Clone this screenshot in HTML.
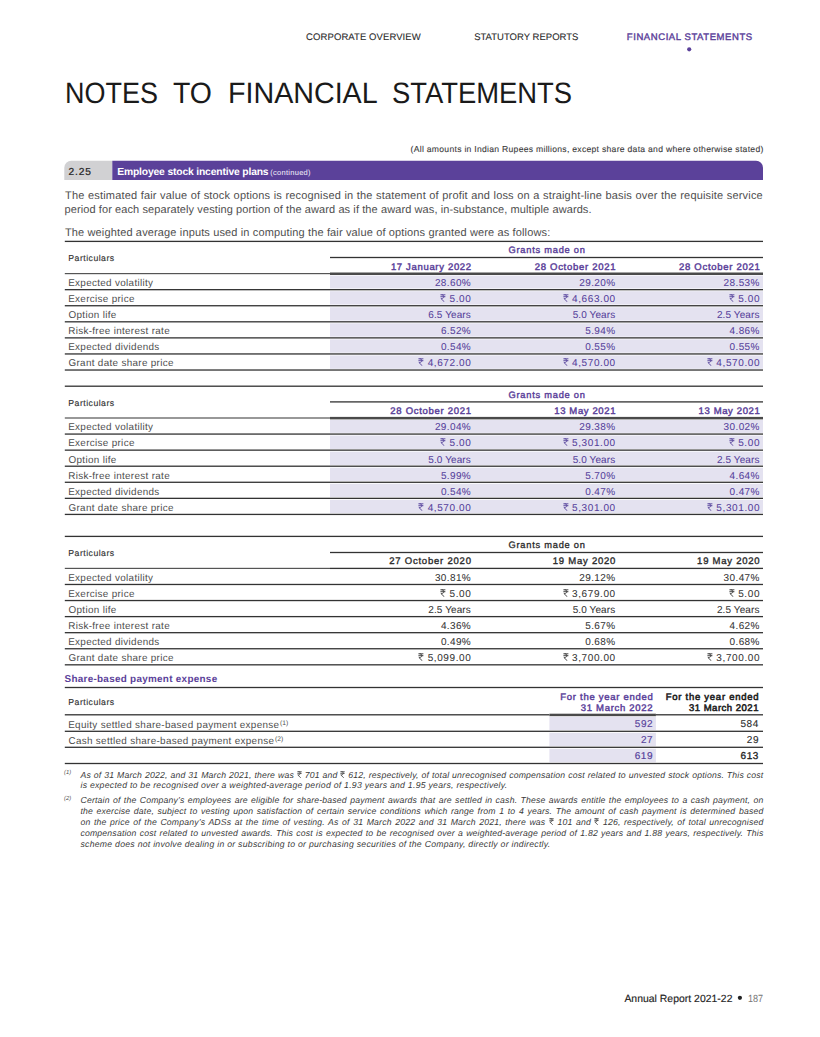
<!DOCTYPE html>
<html><head><meta charset="utf-8"><style>
html,body{margin:0;padding:0;background:#fff;}
body{width:820px;height:1037px;position:relative;overflow:hidden;font-family:"Liberation Sans",sans-serif;text-rendering:geometricPrecision;}
.t{position:absolute;white-space:nowrap;}
.ru{display:inline-block;width:0.58em;height:0.82em;vertical-align:baseline;margin-bottom:0.01em;margin-right:0.0em;}
sup{font-size:0.68em;vertical-align:top;line-height:1;position:relative;top:0.08em;letter-spacing:0;margin-left:0.1em;}
#g{position:absolute;left:0;top:0;}
</style></head><body>
<svg id="g" width="820" height="1037" viewBox="0 0 820 1037">
<circle cx="689.2" cy="49.3" r="2.1" fill="#5b419a"/>
<path d="M64.3 180.1V167.8A7 7 0 0 1 71.3 160.8H112.3V180.1Z" fill="#d1d1d3"/>
<path d="M112.3 180.1V160.8H756A7 7 0 0 1 763 167.8V180.1Z" fill="#5b419a"/>
<rect x="64.80" y="240.75" width="698.20" height="1.30" fill="#333333"/>
<rect x="330.00" y="256.85" width="433.00" height="1.30" fill="#333333"/>
<rect x="64.80" y="273.00" width="265.20" height="1.20" fill="#555"/>
<rect x="330.00" y="272.50" width="433.00" height="2.50" fill="#4a4a4a"/>
<rect x="330.00" y="275.60" width="433.00" height="12.87" fill="#e4e2f0"/>
<rect x="64.80" y="289.02" width="698.20" height="1.30" fill="#333333"/>
<rect x="330.00" y="291.17" width="433.00" height="13.37" fill="#e4e2f0"/>
<rect x="64.80" y="305.09" width="698.20" height="1.30" fill="#333333"/>
<rect x="330.00" y="307.24" width="433.00" height="13.37" fill="#e4e2f0"/>
<rect x="64.80" y="321.16" width="698.20" height="1.30" fill="#333333"/>
<rect x="330.00" y="323.31" width="433.00" height="13.37" fill="#e4e2f0"/>
<rect x="64.80" y="337.23" width="698.20" height="1.30" fill="#333333"/>
<rect x="330.00" y="339.38" width="433.00" height="13.37" fill="#e4e2f0"/>
<rect x="64.80" y="353.30" width="698.20" height="1.30" fill="#333333"/>
<rect x="330.00" y="355.45" width="433.00" height="13.37" fill="#e4e2f0"/>
<rect x="64.80" y="369.37" width="698.20" height="1.30" fill="#333333"/>
<rect x="64.80" y="385.55" width="698.20" height="1.30" fill="#333333"/>
<rect x="330.00" y="401.25" width="433.00" height="1.30" fill="#333333"/>
<rect x="64.80" y="417.40" width="265.20" height="1.20" fill="#555"/>
<rect x="330.00" y="416.90" width="433.00" height="2.50" fill="#4a4a4a"/>
<rect x="330.00" y="420.00" width="433.00" height="12.87" fill="#e4e2f0"/>
<rect x="64.80" y="433.42" width="698.20" height="1.30" fill="#333333"/>
<rect x="330.00" y="435.57" width="433.00" height="13.37" fill="#e4e2f0"/>
<rect x="64.80" y="449.49" width="698.20" height="1.30" fill="#333333"/>
<rect x="330.00" y="451.64" width="433.00" height="13.37" fill="#e4e2f0"/>
<rect x="64.80" y="465.56" width="698.20" height="1.30" fill="#333333"/>
<rect x="330.00" y="467.71" width="433.00" height="13.37" fill="#e4e2f0"/>
<rect x="64.80" y="481.63" width="698.20" height="1.30" fill="#333333"/>
<rect x="330.00" y="483.78" width="433.00" height="13.37" fill="#e4e2f0"/>
<rect x="64.80" y="497.70" width="698.20" height="1.30" fill="#333333"/>
<rect x="330.00" y="499.85" width="433.00" height="13.37" fill="#e4e2f0"/>
<rect x="64.80" y="513.77" width="698.20" height="1.30" fill="#333333"/>
<rect x="64.80" y="535.75" width="698.20" height="1.30" fill="#333333"/>
<rect x="330.00" y="551.85" width="433.00" height="1.30" fill="#333333"/>
<rect x="64.80" y="567.80" width="265.20" height="1.20" fill="#555"/>
<rect x="330.00" y="567.75" width="433.00" height="1.30" fill="#333"/>
<rect x="64.80" y="583.82" width="698.20" height="1.30" fill="#333333"/>
<rect x="64.80" y="599.89" width="698.20" height="1.30" fill="#333333"/>
<rect x="64.80" y="615.96" width="698.20" height="1.30" fill="#333333"/>
<rect x="64.80" y="632.03" width="698.20" height="1.30" fill="#333333"/>
<rect x="64.80" y="648.10" width="698.20" height="1.30" fill="#333333"/>
<rect x="64.80" y="664.17" width="698.20" height="1.30" fill="#333333"/>
<rect x="64.80" y="686.85" width="698.20" height="1.30" fill="#333333"/>
<rect x="64.80" y="714.15" width="484.60" height="1.30" fill="#333333"/>
<rect x="549.40" y="713.70" width="106.50" height="2.50" fill="#4a4a4a"/>
<rect x="655.90" y="714.15" width="107.10" height="1.30" fill="#333333"/>
<rect x="549.40" y="716.80" width="106.50" height="13.30" fill="#e4e2f0"/>
<rect x="64.80" y="730.65" width="698.20" height="1.30" fill="#333333"/>
<rect x="549.40" y="732.80" width="106.50" height="13.30" fill="#e4e2f0"/>
<rect x="64.80" y="746.65" width="698.20" height="1.30" fill="#333333"/>
<rect x="549.40" y="748.80" width="106.50" height="13.50" fill="#e4e2f0"/>
<rect x="64.80" y="762.85" width="698.20" height="1.30" fill="#333333"/>
<circle cx="739.9" cy="997.8" r="2.1" fill="#222"/>
</svg>
<div class="t" style="left:306.12px;letter-spacing:0.087px;top:33px;font-size:9.5px;line-height:10.61px;-webkit-text-stroke:0.1px currentColor;color:#2a2a2a;">CORPORATE OVERVIEW</div>
<div class="t" style="left:474.17px;letter-spacing:0.017px;top:33px;font-size:9.5px;line-height:10.61px;-webkit-text-stroke:0.1px currentColor;color:#2a2a2a;">STATUTORY REPORTS</div>
<div class="t" style="left:626.84px;letter-spacing:0.577px;top:33px;font-size:9.5px;line-height:10.61px;-webkit-text-stroke:0.4px currentColor;color:#5b419a;">FINANCIAL STATEMENTS</div>
<div class="t" style="left:64.54px;transform:scaleX(0.9138);transform-origin:0 0;top:78px;font-size:29.5px;line-height:32.95px;color:#1a1a1a;">NOTES</div>
<div class="t" style="left:173.43px;transform:scaleX(0.9637);transform-origin:0 0;top:78px;font-size:29.5px;line-height:32.95px;color:#1a1a1a;">TO</div>
<div class="t" style="left:227.61px;transform:scaleX(0.9712);transform-origin:0 0;top:78px;font-size:29.5px;line-height:32.95px;color:#1a1a1a;">FINANCIAL</div>
<div class="t" style="left:392.17px;transform:scaleX(0.9283);transform-origin:0 0;top:78px;font-size:29.5px;line-height:32.95px;color:#1a1a1a;">STATEMENTS</div>
<div class="t" style="left:410.58px;letter-spacing:0.281px;top:145px;font-size:8.6px;line-height:9.61px;-webkit-text-stroke:0.1px currentColor;color:#3a3a3a;">(All amounts in Indian Rupees millions, except share data and where otherwise stated)</div>
<div class="t" style="left:68.39px;letter-spacing:0.893px;top:167px;font-size:10.2px;line-height:11.39px;-webkit-text-stroke:0.2px currentColor;color:#222;">2.25</div>
<div class="t" style="left:117.23px;letter-spacing:-0.148px;top:167px;font-size:10.3px;line-height:11.51px;font-weight:bold;color:#fff;">Employee stock incentive plans</div>
<div class="t" style="left:270.25px;letter-spacing:0.280px;top:169px;font-size:7.5px;line-height:8.38px;color:#f4f2fa;">(continued)</div>
<div class="t" style="left:65.09px;letter-spacing:0.000px;top:190px;font-size:11.0px;line-height:12.29px;color:#4e4e4e;width:697.8px;text-align:justify;text-align-last:justify;letter-spacing:0.17px;">The estimated fair value of stock options is recognised in the statement of profit and loss on a straight-line basis over the requisite service</div>
<div class="t" style="left:64.48px;letter-spacing:0.098px;top:204px;font-size:11.0px;line-height:12.29px;color:#4e4e4e;">period for each separately vesting portion of the award as if the award was, in-substance, multiple awards.</div>
<div class="t" style="left:64.98px;letter-spacing:0.139px;top:227px;font-size:11.0px;line-height:12.29px;color:#4e4e4e;">The weighted average inputs used in computing the fair value of options granted were as follows:</div>
<div class="t" style="left:68.30px;letter-spacing:0.479px;top:254px;font-size:8.7px;line-height:9.72px;-webkit-text-stroke:0.15px currentColor;color:#333;">Particulars</div>
<div class="t" style="left:508.44px;letter-spacing:0.757px;top:245px;font-size:9.3px;line-height:10.39px;-webkit-text-stroke:0.4px currentColor;color:#5b419a;">Grants made on</div>
<div class="t" style="right:348.25px;letter-spacing:0.672px;top:263px;font-size:9.5px;line-height:10.61px;-webkit-text-stroke:0.45px currentColor;color:#5b419a;">17 January 2022</div>
<div class="t" style="right:203.86px;letter-spacing:0.709px;top:263px;font-size:9.5px;line-height:10.61px;-webkit-text-stroke:0.45px currentColor;color:#5b419a;">28 October 2021</div>
<div class="t" style="right:59.56px;letter-spacing:0.709px;top:263px;font-size:9.5px;line-height:10.61px;-webkit-text-stroke:0.45px currentColor;color:#5b419a;">28 October 2021</div>
<div class="t" style="left:68.21px;letter-spacing:0.320px;top:278px;font-size:9.9px;line-height:11.06px;color:#4e4e4e;">Expected volatility</div>
<div class="t" style="right:348.90px;letter-spacing:0.380px;top:278px;font-size:10.0px;line-height:11.17px;-webkit-text-stroke:0.05px currentColor;color:#54409a;">28.60%</div>
<div class="t" style="right:204.50px;letter-spacing:0.380px;top:278px;font-size:10.0px;line-height:11.17px;-webkit-text-stroke:0.05px currentColor;color:#54409a;">29.20%</div>
<div class="t" style="right:60.20px;letter-spacing:0.380px;top:278px;font-size:10.0px;line-height:11.17px;-webkit-text-stroke:0.05px currentColor;color:#54409a;">28.53%</div>
<div class="t" style="left:68.21px;letter-spacing:0.320px;top:294px;font-size:9.9px;line-height:11.06px;color:#4e4e4e;">Exercise price</div>
<div class="t" style="right:348.64px;letter-spacing:0.600px;top:294px;font-size:10.0px;line-height:11.17px;-webkit-text-stroke:0.05px currentColor;color:#54409a;"><svg class="ru" viewBox="0 0 54 82"><path d="M2 8H52M2 27H52M14 8C44 8 46 45 12 45H7L42 79" fill="none" stroke="currentColor" stroke-width="9"/></svg> 5.00</div>
<div class="t" style="right:204.22px;letter-spacing:0.600px;top:294px;font-size:10.0px;line-height:11.17px;-webkit-text-stroke:0.05px currentColor;color:#54409a;"><svg class="ru" viewBox="0 0 54 82"><path d="M2 8H52M2 27H52M14 8C44 8 46 45 12 45H7L42 79" fill="none" stroke="currentColor" stroke-width="9"/></svg> 4,663.00</div>
<div class="t" style="right:59.94px;letter-spacing:0.600px;top:294px;font-size:10.0px;line-height:11.17px;-webkit-text-stroke:0.05px currentColor;color:#54409a;"><svg class="ru" viewBox="0 0 54 82"><path d="M2 8H52M2 27H52M14 8C44 8 46 45 12 45H7L42 79" fill="none" stroke="currentColor" stroke-width="9"/></svg> 5.00</div>
<div class="t" style="left:68.55px;letter-spacing:0.320px;top:310px;font-size:9.9px;line-height:11.06px;color:#4e4e4e;">Option life</div>
<div class="t" style="right:349.14px;letter-spacing:0.100px;top:310px;font-size:10.0px;line-height:11.17px;-webkit-text-stroke:0.05px currentColor;color:#54409a;">6.5 Years</div>
<div class="t" style="right:204.74px;letter-spacing:0.100px;top:310px;font-size:10.0px;line-height:11.17px;-webkit-text-stroke:0.05px currentColor;color:#54409a;">5.0 Years</div>
<div class="t" style="right:60.44px;letter-spacing:0.100px;top:310px;font-size:10.0px;line-height:11.17px;-webkit-text-stroke:0.05px currentColor;color:#54409a;">2.5 Years</div>
<div class="t" style="left:68.21px;letter-spacing:0.320px;top:326px;font-size:9.9px;line-height:11.06px;color:#4e4e4e;">Risk-free interest rate</div>
<div class="t" style="right:348.87px;letter-spacing:0.380px;top:326px;font-size:10.0px;line-height:11.17px;-webkit-text-stroke:0.05px currentColor;color:#54409a;">6.52%</div>
<div class="t" style="right:204.47px;letter-spacing:0.380px;top:326px;font-size:10.0px;line-height:11.17px;-webkit-text-stroke:0.05px currentColor;color:#54409a;">5.94%</div>
<div class="t" style="right:60.17px;letter-spacing:0.380px;top:326px;font-size:10.0px;line-height:11.17px;-webkit-text-stroke:0.05px currentColor;color:#54409a;">4.86%</div>
<div class="t" style="left:68.21px;letter-spacing:0.320px;top:342px;font-size:9.9px;line-height:11.06px;color:#4e4e4e;">Expected dividends</div>
<div class="t" style="right:348.87px;letter-spacing:0.380px;top:342px;font-size:10.0px;line-height:11.17px;-webkit-text-stroke:0.05px currentColor;color:#54409a;">0.54%</div>
<div class="t" style="right:204.47px;letter-spacing:0.380px;top:342px;font-size:10.0px;line-height:11.17px;-webkit-text-stroke:0.05px currentColor;color:#54409a;">0.55%</div>
<div class="t" style="right:60.17px;letter-spacing:0.380px;top:342px;font-size:10.0px;line-height:11.17px;-webkit-text-stroke:0.05px currentColor;color:#54409a;">0.55%</div>
<div class="t" style="left:68.50px;letter-spacing:0.320px;top:358px;font-size:9.9px;line-height:11.06px;color:#4e4e4e;">Grant date share price</div>
<div class="t" style="right:348.62px;letter-spacing:0.600px;top:358px;font-size:10.0px;line-height:11.17px;-webkit-text-stroke:0.05px currentColor;color:#54409a;"><svg class="ru" viewBox="0 0 54 82"><path d="M2 8H52M2 27H52M14 8C44 8 46 45 12 45H7L42 79" fill="none" stroke="currentColor" stroke-width="9"/></svg> 4,672.00</div>
<div class="t" style="right:204.22px;letter-spacing:0.600px;top:358px;font-size:10.0px;line-height:11.17px;-webkit-text-stroke:0.05px currentColor;color:#54409a;"><svg class="ru" viewBox="0 0 54 82"><path d="M2 8H52M2 27H52M14 8C44 8 46 45 12 45H7L42 79" fill="none" stroke="currentColor" stroke-width="9"/></svg> 4,570.00</div>
<div class="t" style="right:59.92px;letter-spacing:0.600px;top:358px;font-size:10.0px;line-height:11.17px;-webkit-text-stroke:0.05px currentColor;color:#54409a;"><svg class="ru" viewBox="0 0 54 82"><path d="M2 8H52M2 27H52M14 8C44 8 46 45 12 45H7L42 79" fill="none" stroke="currentColor" stroke-width="9"/></svg> 4,570.00</div>
<div class="t" style="left:68.30px;letter-spacing:0.479px;top:399px;font-size:8.7px;line-height:9.72px;-webkit-text-stroke:0.15px currentColor;color:#333;">Particulars</div>
<div class="t" style="left:508.44px;letter-spacing:0.757px;top:390px;font-size:9.3px;line-height:10.39px;-webkit-text-stroke:0.4px currentColor;color:#5b419a;">Grants made on</div>
<div class="t" style="right:348.26px;letter-spacing:0.709px;top:407px;font-size:9.5px;line-height:10.61px;-webkit-text-stroke:0.45px currentColor;color:#5b419a;">28 October 2021</div>
<div class="t" style="right:203.93px;letter-spacing:0.623px;top:407px;font-size:9.5px;line-height:10.61px;-webkit-text-stroke:0.45px currentColor;color:#5b419a;">13 May 2021</div>
<div class="t" style="right:59.63px;letter-spacing:0.623px;top:407px;font-size:9.5px;line-height:10.61px;-webkit-text-stroke:0.45px currentColor;color:#5b419a;">13 May 2021</div>
<div class="t" style="left:68.21px;letter-spacing:0.320px;top:422px;font-size:9.9px;line-height:11.06px;color:#4e4e4e;">Expected volatility</div>
<div class="t" style="right:348.90px;letter-spacing:0.380px;top:422px;font-size:10.0px;line-height:11.17px;-webkit-text-stroke:0.05px currentColor;color:#54409a;">29.04%</div>
<div class="t" style="right:204.50px;letter-spacing:0.380px;top:422px;font-size:10.0px;line-height:11.17px;-webkit-text-stroke:0.05px currentColor;color:#54409a;">29.38%</div>
<div class="t" style="right:60.20px;letter-spacing:0.380px;top:422px;font-size:10.0px;line-height:11.17px;-webkit-text-stroke:0.05px currentColor;color:#54409a;">30.02%</div>
<div class="t" style="left:68.21px;letter-spacing:0.320px;top:438px;font-size:9.9px;line-height:11.06px;color:#4e4e4e;">Exercise price</div>
<div class="t" style="right:348.64px;letter-spacing:0.600px;top:438px;font-size:10.0px;line-height:11.17px;-webkit-text-stroke:0.05px currentColor;color:#54409a;"><svg class="ru" viewBox="0 0 54 82"><path d="M2 8H52M2 27H52M14 8C44 8 46 45 12 45H7L42 79" fill="none" stroke="currentColor" stroke-width="9"/></svg> 5.00</div>
<div class="t" style="right:204.22px;letter-spacing:0.600px;top:438px;font-size:10.0px;line-height:11.17px;-webkit-text-stroke:0.05px currentColor;color:#54409a;"><svg class="ru" viewBox="0 0 54 82"><path d="M2 8H52M2 27H52M14 8C44 8 46 45 12 45H7L42 79" fill="none" stroke="currentColor" stroke-width="9"/></svg> 5,301.00</div>
<div class="t" style="right:59.94px;letter-spacing:0.600px;top:438px;font-size:10.0px;line-height:11.17px;-webkit-text-stroke:0.05px currentColor;color:#54409a;"><svg class="ru" viewBox="0 0 54 82"><path d="M2 8H52M2 27H52M14 8C44 8 46 45 12 45H7L42 79" fill="none" stroke="currentColor" stroke-width="9"/></svg> 5.00</div>
<div class="t" style="left:68.55px;letter-spacing:0.320px;top:455px;font-size:9.9px;line-height:11.06px;color:#4e4e4e;">Option life</div>
<div class="t" style="right:349.14px;letter-spacing:0.100px;top:455px;font-size:10.0px;line-height:11.17px;-webkit-text-stroke:0.05px currentColor;color:#54409a;">5.0 Years</div>
<div class="t" style="right:204.74px;letter-spacing:0.100px;top:455px;font-size:10.0px;line-height:11.17px;-webkit-text-stroke:0.05px currentColor;color:#54409a;">5.0 Years</div>
<div class="t" style="right:60.44px;letter-spacing:0.100px;top:455px;font-size:10.0px;line-height:11.17px;-webkit-text-stroke:0.05px currentColor;color:#54409a;">2.5 Years</div>
<div class="t" style="left:68.21px;letter-spacing:0.320px;top:471px;font-size:9.9px;line-height:11.06px;color:#4e4e4e;">Risk-free interest rate</div>
<div class="t" style="right:348.87px;letter-spacing:0.380px;top:471px;font-size:10.0px;line-height:11.17px;-webkit-text-stroke:0.05px currentColor;color:#54409a;">5.99%</div>
<div class="t" style="right:204.47px;letter-spacing:0.380px;top:471px;font-size:10.0px;line-height:11.17px;-webkit-text-stroke:0.05px currentColor;color:#54409a;">5.70%</div>
<div class="t" style="right:60.17px;letter-spacing:0.380px;top:471px;font-size:10.0px;line-height:11.17px;-webkit-text-stroke:0.05px currentColor;color:#54409a;">4.64%</div>
<div class="t" style="left:68.21px;letter-spacing:0.320px;top:487px;font-size:9.9px;line-height:11.06px;color:#4e4e4e;">Expected dividends</div>
<div class="t" style="right:348.87px;letter-spacing:0.380px;top:487px;font-size:10.0px;line-height:11.17px;-webkit-text-stroke:0.05px currentColor;color:#54409a;">0.54%</div>
<div class="t" style="right:204.47px;letter-spacing:0.380px;top:487px;font-size:10.0px;line-height:11.17px;-webkit-text-stroke:0.05px currentColor;color:#54409a;">0.47%</div>
<div class="t" style="right:60.17px;letter-spacing:0.380px;top:487px;font-size:10.0px;line-height:11.17px;-webkit-text-stroke:0.05px currentColor;color:#54409a;">0.47%</div>
<div class="t" style="left:68.50px;letter-spacing:0.320px;top:503px;font-size:9.9px;line-height:11.06px;color:#4e4e4e;">Grant date share price</div>
<div class="t" style="right:348.62px;letter-spacing:0.600px;top:503px;font-size:10.0px;line-height:11.17px;-webkit-text-stroke:0.05px currentColor;color:#54409a;"><svg class="ru" viewBox="0 0 54 82"><path d="M2 8H52M2 27H52M14 8C44 8 46 45 12 45H7L42 79" fill="none" stroke="currentColor" stroke-width="9"/></svg> 4,570.00</div>
<div class="t" style="right:204.22px;letter-spacing:0.600px;top:503px;font-size:10.0px;line-height:11.17px;-webkit-text-stroke:0.05px currentColor;color:#54409a;"><svg class="ru" viewBox="0 0 54 82"><path d="M2 8H52M2 27H52M14 8C44 8 46 45 12 45H7L42 79" fill="none" stroke="currentColor" stroke-width="9"/></svg> 5,301.00</div>
<div class="t" style="right:59.92px;letter-spacing:0.600px;top:503px;font-size:10.0px;line-height:11.17px;-webkit-text-stroke:0.05px currentColor;color:#54409a;"><svg class="ru" viewBox="0 0 54 82"><path d="M2 8H52M2 27H52M14 8C44 8 46 45 12 45H7L42 79" fill="none" stroke="currentColor" stroke-width="9"/></svg> 5,301.00</div>
<div class="t" style="left:68.30px;letter-spacing:0.479px;top:549px;font-size:8.7px;line-height:9.72px;-webkit-text-stroke:0.15px currentColor;color:#333;">Particulars</div>
<div class="t" style="left:508.44px;letter-spacing:0.757px;top:540px;font-size:9.3px;line-height:10.39px;-webkit-text-stroke:0.3px currentColor;color:#2a2a2a;">Grants made on</div>
<div class="t" style="right:348.28px;letter-spacing:0.788px;top:557px;font-size:9.5px;line-height:10.61px;-webkit-text-stroke:0.35px currentColor;color:#2a2a2a;">27 October 2020</div>
<div class="t" style="right:203.89px;letter-spacing:0.763px;top:557px;font-size:9.5px;line-height:10.61px;-webkit-text-stroke:0.35px currentColor;color:#2a2a2a;">19 May 2020</div>
<div class="t" style="right:59.59px;letter-spacing:0.763px;top:557px;font-size:9.5px;line-height:10.61px;-webkit-text-stroke:0.35px currentColor;color:#2a2a2a;">19 May 2020</div>
<div class="t" style="left:68.21px;letter-spacing:0.320px;top:573px;font-size:9.9px;line-height:11.06px;color:#4e4e4e;">Expected volatility</div>
<div class="t" style="right:348.90px;letter-spacing:0.380px;top:573px;font-size:10.0px;line-height:11.17px;-webkit-text-stroke:0.05px currentColor;color:#333;">30.81%</div>
<div class="t" style="right:204.50px;letter-spacing:0.380px;top:573px;font-size:10.0px;line-height:11.17px;-webkit-text-stroke:0.05px currentColor;color:#333;">29.12%</div>
<div class="t" style="right:60.20px;letter-spacing:0.380px;top:573px;font-size:10.0px;line-height:11.17px;-webkit-text-stroke:0.05px currentColor;color:#333;">30.47%</div>
<div class="t" style="left:68.21px;letter-spacing:0.320px;top:589px;font-size:9.9px;line-height:11.06px;color:#4e4e4e;">Exercise price</div>
<div class="t" style="right:348.64px;letter-spacing:0.600px;top:589px;font-size:10.0px;line-height:11.17px;-webkit-text-stroke:0.05px currentColor;color:#333;"><svg class="ru" viewBox="0 0 54 82"><path d="M2 8H52M2 27H52M14 8C44 8 46 45 12 45H7L42 79" fill="none" stroke="currentColor" stroke-width="9"/></svg> 5.00</div>
<div class="t" style="right:204.22px;letter-spacing:0.600px;top:589px;font-size:10.0px;line-height:11.17px;-webkit-text-stroke:0.05px currentColor;color:#333;"><svg class="ru" viewBox="0 0 54 82"><path d="M2 8H52M2 27H52M14 8C44 8 46 45 12 45H7L42 79" fill="none" stroke="currentColor" stroke-width="9"/></svg> 3,679.00</div>
<div class="t" style="right:59.94px;letter-spacing:0.600px;top:589px;font-size:10.0px;line-height:11.17px;-webkit-text-stroke:0.05px currentColor;color:#333;"><svg class="ru" viewBox="0 0 54 82"><path d="M2 8H52M2 27H52M14 8C44 8 46 45 12 45H7L42 79" fill="none" stroke="currentColor" stroke-width="9"/></svg> 5.00</div>
<div class="t" style="left:68.55px;letter-spacing:0.320px;top:605px;font-size:9.9px;line-height:11.06px;color:#4e4e4e;">Option life</div>
<div class="t" style="right:349.14px;letter-spacing:0.100px;top:605px;font-size:10.0px;line-height:11.17px;-webkit-text-stroke:0.05px currentColor;color:#333;">2.5 Years</div>
<div class="t" style="right:204.74px;letter-spacing:0.100px;top:605px;font-size:10.0px;line-height:11.17px;-webkit-text-stroke:0.05px currentColor;color:#333;">5.0 Years</div>
<div class="t" style="right:60.44px;letter-spacing:0.100px;top:605px;font-size:10.0px;line-height:11.17px;-webkit-text-stroke:0.05px currentColor;color:#333;">2.5 Years</div>
<div class="t" style="left:68.21px;letter-spacing:0.320px;top:621px;font-size:9.9px;line-height:11.06px;color:#4e4e4e;">Risk-free interest rate</div>
<div class="t" style="right:348.87px;letter-spacing:0.380px;top:621px;font-size:10.0px;line-height:11.17px;-webkit-text-stroke:0.05px currentColor;color:#333;">4.36%</div>
<div class="t" style="right:204.47px;letter-spacing:0.380px;top:621px;font-size:10.0px;line-height:11.17px;-webkit-text-stroke:0.05px currentColor;color:#333;">5.67%</div>
<div class="t" style="right:60.17px;letter-spacing:0.380px;top:621px;font-size:10.0px;line-height:11.17px;-webkit-text-stroke:0.05px currentColor;color:#333;">4.62%</div>
<div class="t" style="left:68.21px;letter-spacing:0.320px;top:637px;font-size:9.9px;line-height:11.06px;color:#4e4e4e;">Expected dividends</div>
<div class="t" style="right:348.87px;letter-spacing:0.380px;top:637px;font-size:10.0px;line-height:11.17px;-webkit-text-stroke:0.05px currentColor;color:#333;">0.49%</div>
<div class="t" style="right:204.47px;letter-spacing:0.380px;top:637px;font-size:10.0px;line-height:11.17px;-webkit-text-stroke:0.05px currentColor;color:#333;">0.68%</div>
<div class="t" style="right:60.17px;letter-spacing:0.380px;top:637px;font-size:10.0px;line-height:11.17px;-webkit-text-stroke:0.05px currentColor;color:#333;">0.68%</div>
<div class="t" style="left:68.50px;letter-spacing:0.320px;top:653px;font-size:9.9px;line-height:11.06px;color:#4e4e4e;">Grant date share price</div>
<div class="t" style="right:348.62px;letter-spacing:0.600px;top:653px;font-size:10.0px;line-height:11.17px;-webkit-text-stroke:0.05px currentColor;color:#333;"><svg class="ru" viewBox="0 0 54 82"><path d="M2 8H52M2 27H52M14 8C44 8 46 45 12 45H7L42 79" fill="none" stroke="currentColor" stroke-width="9"/></svg> 5,099.00</div>
<div class="t" style="right:204.22px;letter-spacing:0.600px;top:653px;font-size:10.0px;line-height:11.17px;-webkit-text-stroke:0.05px currentColor;color:#333;"><svg class="ru" viewBox="0 0 54 82"><path d="M2 8H52M2 27H52M14 8C44 8 46 45 12 45H7L42 79" fill="none" stroke="currentColor" stroke-width="9"/></svg> 3,700.00</div>
<div class="t" style="right:59.92px;letter-spacing:0.600px;top:653px;font-size:10.0px;line-height:11.17px;-webkit-text-stroke:0.05px currentColor;color:#333;"><svg class="ru" viewBox="0 0 54 82"><path d="M2 8H52M2 27H52M14 8C44 8 46 45 12 45H7L42 79" fill="none" stroke="currentColor" stroke-width="9"/></svg> 3,700.00</div>
<div class="t" style="left:64.50px;letter-spacing:0.298px;top:674px;font-size:9.9px;line-height:11.06px;font-weight:bold;color:#5b419a;">Share-based payment expense</div>
<div class="t" style="left:68.30px;letter-spacing:0.479px;top:698px;font-size:8.7px;line-height:9.72px;-webkit-text-stroke:0.15px currentColor;color:#333;">Particulars</div>
<div class="t" style="right:166.62px;letter-spacing:0.709px;top:693px;font-size:9.5px;line-height:10.61px;-webkit-text-stroke:0.45px currentColor;color:#5b419a;">For the year ended</div>
<div class="t" style="right:166.70px;letter-spacing:0.712px;top:704px;font-size:9.5px;line-height:10.61px;-webkit-text-stroke:0.45px currentColor;color:#5b419a;">31 March 2022</div>
<div class="t" style="right:60.69px;letter-spacing:0.744px;top:693px;font-size:9.5px;line-height:10.61px;-webkit-text-stroke:0.55px currentColor;color:#1e1e1e;">For the year ended</div>
<div class="t" style="right:61.05px;letter-spacing:0.508px;top:704px;font-size:9.5px;line-height:10.61px;-webkit-text-stroke:0.55px currentColor;color:#1e1e1e;">31 March 2021</div>
<div class="t" style="left:68.21px;letter-spacing:0.322px;top:720px;font-size:9.9px;line-height:11.06px;color:#4e4e4e;">Equity settled share-based payment expense<sup>(1)</sup></div>
<div class="t" style="right:166.76px;letter-spacing:0.600px;top:719px;font-size:10.0px;line-height:11.17px;-webkit-text-stroke:0.12px currentColor;color:#54409a;">592</div>
<div class="t" style="right:61.11px;letter-spacing:0.600px;top:719px;font-size:10.0px;line-height:11.17px;-webkit-text-stroke:0.12px currentColor;color:#2a2a2a;">584</div>
<div class="t" style="left:68.50px;letter-spacing:0.313px;top:736px;font-size:9.9px;line-height:11.06px;color:#4e4e4e;">Cash settled share-based payment expense<sup>(2)</sup></div>
<div class="t" style="right:166.78px;letter-spacing:0.600px;top:735px;font-size:10.0px;line-height:11.17px;-webkit-text-stroke:0.12px currentColor;color:#54409a;">27</div>
<div class="t" style="right:60.93px;letter-spacing:0.600px;top:735px;font-size:10.0px;line-height:11.17px;-webkit-text-stroke:0.12px currentColor;color:#2a2a2a;">29</div>
<div class="t" style="right:166.81px;letter-spacing:0.600px;top:751px;font-size:10.0px;line-height:11.17px;-webkit-text-stroke:0.2px currentColor;color:#54409a;">619</div>
<div class="t" style="right:60.96px;letter-spacing:0.600px;top:751px;font-size:10.0px;line-height:11.17px;-webkit-text-stroke:0.3px currentColor;color:#222;">613</div>
<div class="t" style="left:64.04px;letter-spacing:0.000px;top:770px;font-size:5.8px;line-height:6.48px;font-style:italic;color:#4e4e4e;">(1)</div>
<div class="t" style="left:80.45px;letter-spacing:0.000px;top:771px;font-size:8.7px;line-height:9.72px;font-style:italic;color:#3a3a3a;width:683px;text-align:justify;text-align-last:justify;letter-spacing:0.17px;">As of 31 March 2022, and 31 March 2021, there was <svg class="ru" viewBox="0 0 54 82"><path d="M2 8H52M2 27H52M14 8C44 8 46 45 12 45H7L42 79" fill="none" stroke="currentColor" stroke-width="9"/></svg> 701 and <svg class="ru" viewBox="0 0 54 82"><path d="M2 8H52M2 27H52M14 8C44 8 46 45 12 45H7L42 79" fill="none" stroke="currentColor" stroke-width="9"/></svg> 612, respectively, of total unrecognised compensation cost related to unvested stock options. This cost</div>
<div class="t" style="left:80.45px;letter-spacing:0.000px;top:781px;font-size:8.7px;line-height:9.72px;font-style:italic;color:#3a3a3a;text-align:left;letter-spacing:0.26px;">is expected to be recognised over a weighted-average period of 1.93 years and 1.95 years, respectively.</div>
<div class="t" style="left:64.04px;letter-spacing:0.000px;top:796px;font-size:5.8px;line-height:6.48px;font-style:italic;color:#4e4e4e;">(2)</div>
<div class="t" style="left:80.45px;letter-spacing:0.000px;top:796px;font-size:8.7px;line-height:9.72px;font-style:italic;color:#3a3a3a;width:683px;text-align:justify;text-align-last:justify;letter-spacing:0.17px;">Certain of the Company’s employees are eligible for share-based payment awards that are settled in cash. These awards entitle the employees to a cash payment, on</div>
<div class="t" style="left:80.45px;letter-spacing:0.000px;top:807px;font-size:8.7px;line-height:9.72px;font-style:italic;color:#3a3a3a;width:683px;text-align:justify;text-align-last:justify;letter-spacing:0.17px;">the exercise date, subject to vesting upon satisfaction of certain service conditions which range from 1 to 4 years. The amount of cash payment is determined based</div>
<div class="t" style="left:80.45px;letter-spacing:0.000px;top:818px;font-size:8.7px;line-height:9.72px;font-style:italic;color:#3a3a3a;width:683px;text-align:justify;text-align-last:justify;letter-spacing:0.17px;">on the price of the Company’s ADSs at the time of vesting. As of 31 March 2022 and 31 March 2021, there was <svg class="ru" viewBox="0 0 54 82"><path d="M2 8H52M2 27H52M14 8C44 8 46 45 12 45H7L42 79" fill="none" stroke="currentColor" stroke-width="9"/></svg> 101 and <svg class="ru" viewBox="0 0 54 82"><path d="M2 8H52M2 27H52M14 8C44 8 46 45 12 45H7L42 79" fill="none" stroke="currentColor" stroke-width="9"/></svg> 126, respectively, of total unrecognised</div>
<div class="t" style="left:80.45px;letter-spacing:0.000px;top:829px;font-size:8.7px;line-height:9.72px;font-style:italic;color:#3a3a3a;width:683px;text-align:justify;text-align-last:justify;letter-spacing:0.17px;">compensation cost related to unvested awards. This cost is expected to be recognised over a weighted-average period of 1.82 years and 1.88 years, respectively. This</div>
<div class="t" style="left:80.45px;letter-spacing:0.000px;top:840px;font-size:8.7px;line-height:9.72px;font-style:italic;color:#3a3a3a;text-align:left;letter-spacing:0.26px;">scheme does not involve dealing in or subscribing to or purchasing securities of the Company, directly or indirectly.</div>
<div class="t" style="left:624.40px;letter-spacing:0.029px;top:994px;font-size:10.4px;line-height:11.62px;-webkit-text-stroke:0.15px currentColor;color:#222;">Annual Report 2021-22</div>
<div class="t" style="left:748.02px;transform:scaleX(0.8741);transform-origin:0 0;top:994px;font-size:10.4px;line-height:11.62px;color:#777;">187</div>
</body></html>
